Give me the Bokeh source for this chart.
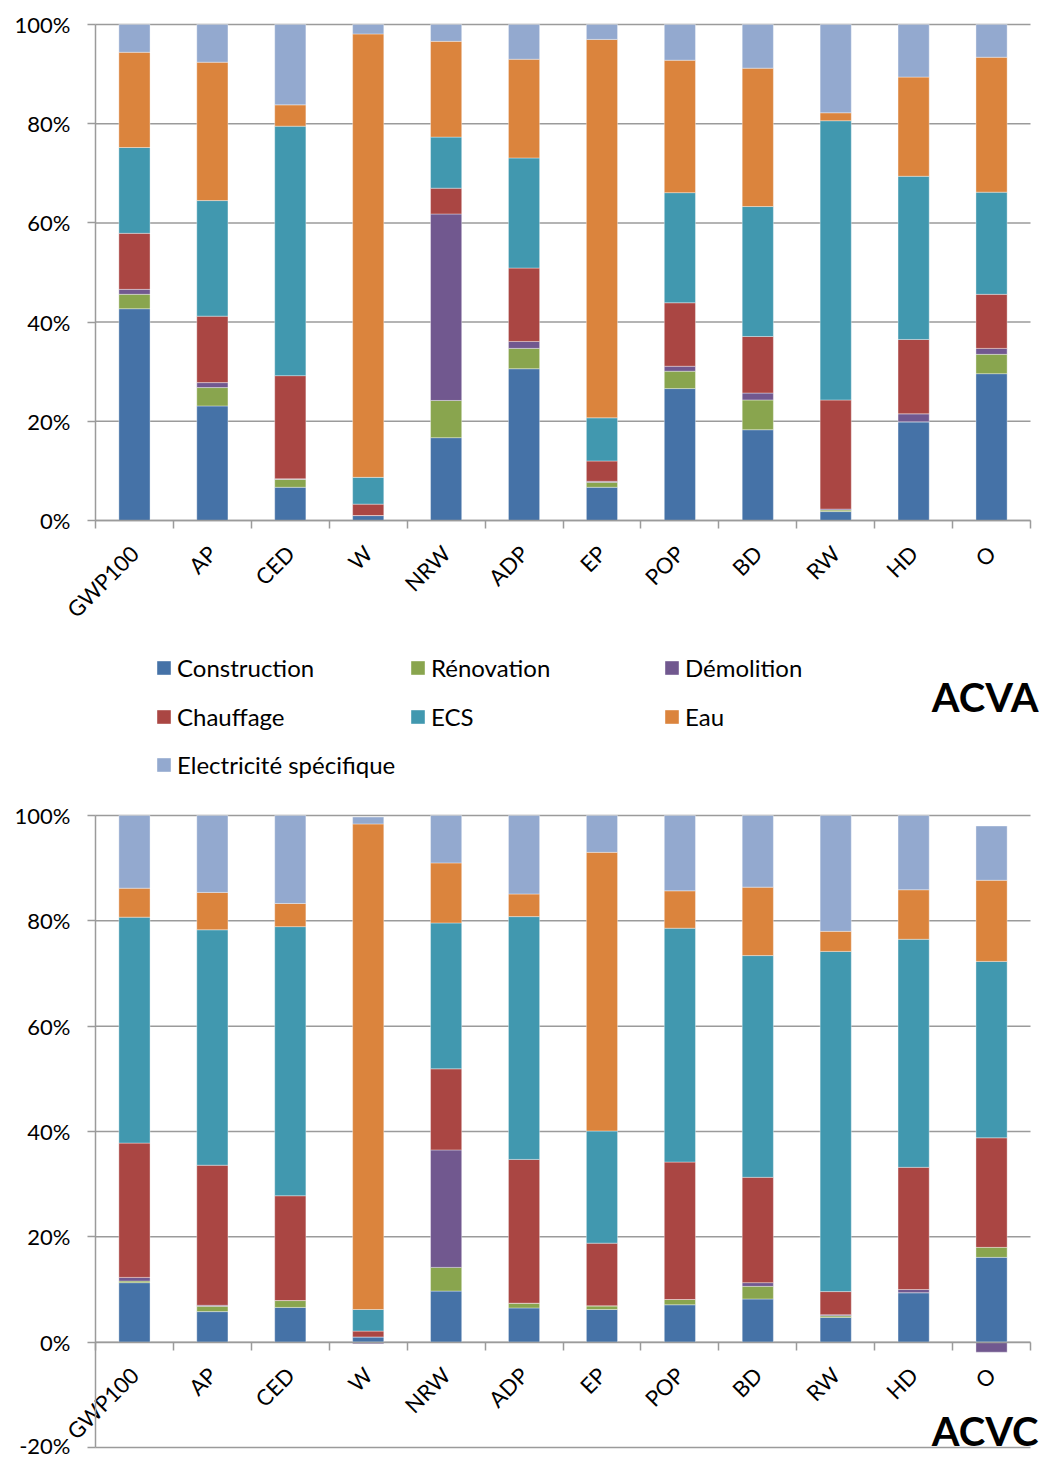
import math
from bokeh.plotting import figure
from bokeh.models import (ColumnDataSource, FixedTicker, PrintfTickFormatter, Legend,
                          LegendItem, Label, Range1d, LinearAxis, CustomJSTickFormatter)
from bokeh.layouts import column
from bokeh.embed import file_html
from bokeh.resources import INLINE

categories = ["GWP100", "AP", "CED", "W", "NRW", "ADP", "EP", "POP", "BD", "RW", "HD", "O"]
series_names = ["Construction", "Rénovation", "Démolition", "Chauffage", "ECS", "Eau",
                "Electricité spécifique"]
colors = ["#4572A7", "#89A54E", "#71588F", "#AA4643", "#4198AF", "#DB843D", "#93A9CF"]
y_ticks_top = [0, 20, 40, 60, 80, 100]
y_ticks_bottom = [-20, 0, 20, 40, 60, 80, 100]

# ACVA (%)
acva_construction = [42.7, 23.1, 6.7, 1.0, 16.7, 30.6, 6.7, 26.6, 18.3, 1.8, 19.9, 29.6]
acva_renovation = [2.9, 3.7, 1.6, 0.0, 7.5, 4.1, 1.0, 3.5, 6.0, 0.3, 0.0, 3.9]
acva_demolition = [1.0, 1.0, 0.1, 0.0, 37.6, 1.4, 0.2, 1.0, 1.4, 0.2, 1.6, 1.2]
acva_chauffage = [11.3, 13.4, 20.8, 2.3, 5.2, 14.8, 4.1, 12.8, 11.4, 22.0, 15.0, 10.9]
acva_ecs = [17.3, 23.3, 50.3, 5.4, 10.3, 22.2, 8.7, 22.2, 26.2, 56.3, 32.9, 20.6]
acva_eau = [19.2, 27.9, 4.3, 89.4, 19.3, 19.9, 76.3, 26.7, 27.9, 1.6, 20.0, 27.2]
acva_elec = [5.6, 7.6, 16.2, 1.9, 3.4, 7.0, 3.0, 7.2, 8.8, 17.8, 10.6, 6.6]

# ACVC (%)
acvc_construction = [11.3, 5.8, 6.6, 1.0, 9.7, 6.5, 6.2, 7.1, 8.2, 4.7, 9.4, 16.1]
acvc_renovation = [0.3, 1.0, 1.3, 0.0, 4.5, 0.9, 0.7, 1.0, 2.4, 0.3, 0.0, 1.9]
acvc_demolition = [0.7, 0.2, 0.0, -0.3, 22.3, 0.0, 0.0, 0.0, 0.7, 0.2, 0.6, -1.9]
acvc_chauffage = [25.5, 26.6, 19.9, 1.1, 15.4, 27.3, 11.9, 26.1, 20.0, 4.4, 23.2, 20.8]
acvc_ecs = [42.9, 44.7, 51.1, 4.1, 27.7, 46.1, 21.3, 44.4, 42.1, 64.6, 43.3, 33.5]
acvc_eau = [5.5, 7.1, 4.4, 92.2, 11.4, 4.3, 52.9, 7.1, 13.0, 3.8, 9.4, 15.4]
acvc_elec = [13.8, 14.6, 16.7, 1.3, 9.0, 14.9, 7.0, 14.3, 13.6, 22.0, 14.1, 10.3]

acva = [acva_construction, acva_renovation, acva_demolition, acva_chauffage, acva_ecs, acva_eau, acva_elec]
acvc = [acvc_construction, acvc_renovation, acvc_demolition, acvc_chauffage, acvc_ecs, acvc_eau, acvc_elec]

FONT = "Lato"
GRID = "#9b9b9b"
W = 1041
N = len(categories)

# pixel layout (page coordinates)
AX_LEFT, AX_RIGHT = 95, 1030          # category area
FR_LEFT, FR_RIGHT = 2, 1039           # frame extent
CAT_PX = (AX_RIGHT - AX_LEFT) / N
X_START = -(AX_LEFT - FR_LEFT) / CAT_PX
X_END = N + (FR_RIGHT - AX_RIGHT) / CAT_PX


def stacked(values_list):
    pos = [0.0] * N
    neg = [0.0] * N
    out = []
    for vals in values_list:
        b, t = [], []
        for i, v in enumerate(vals):
            if v >= 0:
                b.append(pos[i]); t.append(pos[i] + v); pos[i] += v
            else:
                t.append(neg[i]); b.append(neg[i] + v); neg[i] += v
        out.append((b, t))
    return out


def make_chart(values_list, yticks, fig_top, height, px_top_tick, px_bottom_tick):
    # frame spans fig_top+2 .. fig_top+height-2 ; ticks map to given page pixels
    fr_top, fr_bot = fig_top + 2, fig_top + height - 2
    u = (px_bottom_tick - px_top_tick) / (yticks[-1] - yticks[0])
    y_end = yticks[-1] + (px_top_tick - fr_top) / u
    y_start = yticks[0] - (fr_bot - px_bottom_tick) / u
    p = figure(width=W, height=height, x_range=Range1d(X_START, X_END), y_range=Range1d(y_start, y_end),
               output_backend="svg", toolbar_location=None, x_axis_type=None, y_axis_type=None,
               min_border_left=FR_LEFT, min_border_right=W - FR_RIGHT, min_border_top=2,
               min_border_bottom=2)
    p.outline_line_color = None
    p.segment(x0=[0] * len(yticks), x1=[N] * len(yticks), y0=yticks, y1=yticks,
              line_color=GRID, line_width=1.5, level="underlay")
    xs = [i + 0.5 for i in range(N)]
    for name, color, (b, t) in zip(series_names, colors, stacked(values_list)):
        src = ColumnDataSource(dict(x=xs, bottom=b, top=t))
        p.vbar(x="x", bottom="bottom", top="top", width=0.4, source=src,
               fill_color=color, line_color="white", line_alpha=0.45, line_width=0.8)
    yaxis = LinearAxis(ticker=FixedTicker(ticks=yticks), formatter=PrintfTickFormatter(format="%d%%"),
                       fixed_location=0, bounds=(yticks[0], yticks[-1]),
                       axis_line_color=GRID, axis_line_width=1.5,
                       major_tick_line_color=GRID, major_tick_line_width=1.5,
                       major_tick_out=8, major_tick_in=0, minor_tick_line_color=None,
                       major_label_standoff=17, major_label_text_font=FONT,
                       major_label_text_font_size="22px", major_label_text_color="black")
    p.add_layout(yaxis, "left")
    xaxis = LinearAxis(ticker=FixedTicker(ticks=xs, minor_ticks=list(range(N + 1))),
                       formatter=CustomJSTickFormatter(args=dict(cats=categories),
                                                       code="return cats[Math.floor(tick)];"),
                       fixed_location=0, bounds=(0, N),
                       major_label_orientation=math.pi / 4,
                       axis_line_color=GRID, axis_line_width=1.5,
                       major_tick_line_color=None, major_tick_out=0, major_tick_in=0,
                       minor_tick_line_color=GRID, minor_tick_line_width=1.5,
                       minor_tick_out=8, minor_tick_in=0,
                       major_label_standoff=21, major_label_text_font=FONT,
                       major_label_text_font_size="22px", major_label_text_color="black")
    p.add_layout(xaxis, "below")
    return p, u


p1, u1 = make_chart(acva, y_ticks_top, 0, 640, 24, 520)
p3, u3 = make_chart(acvc, y_ticks_bottom, 795, 663, 815, 1447)

# legend panel (data coordinates == page x, and 795 - page y)
p2 = figure(width=W, height=155, x_range=Range1d(FR_LEFT, FR_RIGHT), y_range=Range1d(0, 155),
            output_backend="svg", toolbar_location=None, x_axis_type=None, y_axis_type=None,
            min_border_left=FR_LEFT, min_border_right=W - FR_RIGHT, min_border_top=0,
            min_border_bottom=0)
p2.outline_line_color = None
xs_leg = [i + 0.5 for i in range(N)]
leg_renderers = []
for color, (b, t) in zip(colors, stacked(acva)):
    r = p2.vbar(x=xs_leg, bottom=b, top=t, width=0.4, fill_color=color, line_color=None)
    r.visible = False
    leg_renderers.append(r)
rows = [[0, 1, 2], [3, 4, 5], [6]]
row_bottoms = [113, 64, 16]
for row, vy in zip(rows, row_bottoms):
    lg = Legend(items=[LegendItem(label=series_names[k], renderers=[leg_renderers[k]]) for k in row],
                location=(153, vy), orientation="horizontal", glyph_width=17, glyph_height=17,
                label_standoff=5, label_width=232, label_height=26, spacing=0, padding=0, margin=0,
                border_line_color=None, background_fill_alpha=0,
                inactive_fill_alpha=0, click_policy="none",
                label_text_font=FONT, label_text_font_size="24px", label_text_color="black")
    p2.add_layout(lg)

p2.add_layout(Label(x=1038, y=99, text="ACVA", text_align="right", text_baseline="middle",
                    text_font=FONT, text_font_style="bold", text_font_size="40px", text_color="black"))
p3.add_layout(Label(x=N, y=y_ticks_bottom[0] + 17 / u3, x_offset=8, text="ACVC",
                    text_align="right", text_baseline="middle", text_font=FONT,
                    text_font_style="bold", text_font_size="40px", text_color="black"))

layout = column(p1, p2, p3, spacing=0)
open("out.html", "w").write(file_html(layout, INLINE))
